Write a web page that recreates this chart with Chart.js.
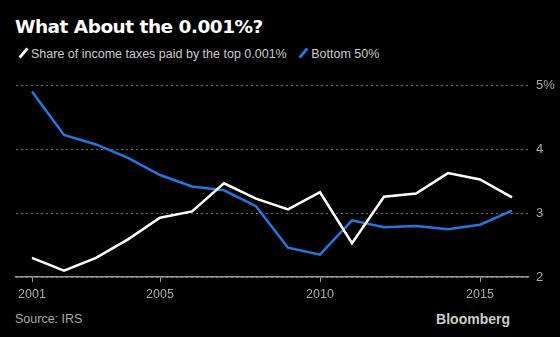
<!DOCTYPE html>
<html>
<head>
<meta charset="utf-8">
<script src="https://cdn.jsdelivr.net/npm/chart.js@4"></script>
<style>
  body { margin: 0; background: #000; width: 560px; height: 337px; overflow: hidden; position: relative; font-family: "Liberation Sans", sans-serif; }
  #title { position: absolute; left: 15px; top: 16px; color: #fff; font-weight: bold; font-size: 18.5px; letter-spacing: -0.5px; font-family: "DejaVu Sans", sans-serif; }
  #legend { position: absolute; left: 22px; top: 47px; color: #ccc; font-size: 12.5px; white-space: nowrap; }
  #legend .sw { display: inline-block; width: 3px; height: 12px; transform: rotate(40deg); vertical-align: -1px; margin-right: 6px; }
  #legend .item { margin-right: 12px; }
  #wrap { position: absolute; left: 0; top: 70px; width: 560px; height: 235px; }
  #source { position: absolute; left: 15px; top: 312px; color: #aaa; font-size: 12.5px; }
  #brand { position: absolute; right: 50px; top: 311px; color: #ccc; font-size: 14px; font-weight: bold; }
</style>
</head>
<body>
<div id="title">What About the 0.001%?</div>
<div id="legend">
  <span class="item"><span class="sw" style="background:#fff"></span>Share of income taxes paid by the top 0.001%</span>
  <span class="item"><span class="sw" style="background:#2277e0"></span>Bottom 50%</span>
</div>
<div id="wrap"><canvas id="chart"></canvas></div>
<div id="source">Source: IRS</div>
<div id="brand">Bloomberg</div>
<script>
var years = [2001, 2002, 2003, 2004, 2005, 2006, 2007, 2008, 2009, 2010, 2011, 2012, 2013, 2014, 2015, 2016];
var top0001 = [2.30, 2.10, 2.30, 2.59, 2.93, 3.03, 3.47, 3.23, 3.06, 3.33, 2.53, 3.26, 3.31, 3.63, 3.53, 3.25];
var bottom50 = [4.91, 4.23, 4.08, 3.87, 3.60, 3.42, 3.36, 3.11, 2.46, 2.35, 2.89, 2.78, 2.80, 2.75, 2.82, 3.04];
var xTicks = [2001, 2005, 2010, 2015];
var yTicks = [2, 3, 4, 5];

function pts(vals) {
  return years.map(function (y, i) { return { x: y, y: vals[i] }; });
}

new Chart(document.getElementById('chart'), {
  type: 'line',
  data: {
    datasets: [
      { label: 'Share of income taxes paid by the top 0.001%', data: pts(top0001), borderColor: '#ffffff', borderWidth: 2.5, pointRadius: 0, tension: 0 },
      { label: 'Bottom 50%', data: pts(bottom50), borderColor: '#2277e0', borderWidth: 2.5, pointRadius: 0, tension: 0 }
    ]
  },
  options: {
    responsive: true,
    maintainAspectRatio: false,
    animation: false,
    layout: { padding: { left: 16, top: 12, right: 0, bottom: 0 } },
    plugins: { legend: { display: false }, tooltip: { enabled: false } },
    scales: {
      x: {
        type: 'linear',
        min: 2000.5,
        max: 2016.5,
        afterBuildTicks: function (axis) { axis.ticks = xTicks.map(function (v) { return { value: v }; }); },
        afterFit: function (axis) { axis.height = 28; },
        ticks: { color: '#aaa', font: { family: 'Liberation Sans', size: 12.5 }, padding: 5, maxRotation: 0, callback: function (v) { return String(v); } },
        grid: { drawOnChartArea: false, drawTicks: true, tickLength: 5, color: '#999', lineWidth: 1 },
        border: { display: true, color: '#999', width: 1.5 }
      },
      y: {
        position: 'right',
        min: 2,
        max: 5,
        afterBuildTicks: function (axis) { axis.ticks = yTicks.map(function (v) { return { value: v }; }); },
        afterFit: function (axis) { axis.width = 32; },
        ticks: { color: '#aaa', font: { family: 'Liberation Sans', size: 13 }, padding: 8, callback: function (v) { return v === 5 ? v + '%' : String(v); } },
        grid: { drawTicks: false, color: '#666', lineWidth: 1 },
        border: { display: false, dash: [2, 3] }
      }
    }
  }
});
</script>
</body>
</html>
